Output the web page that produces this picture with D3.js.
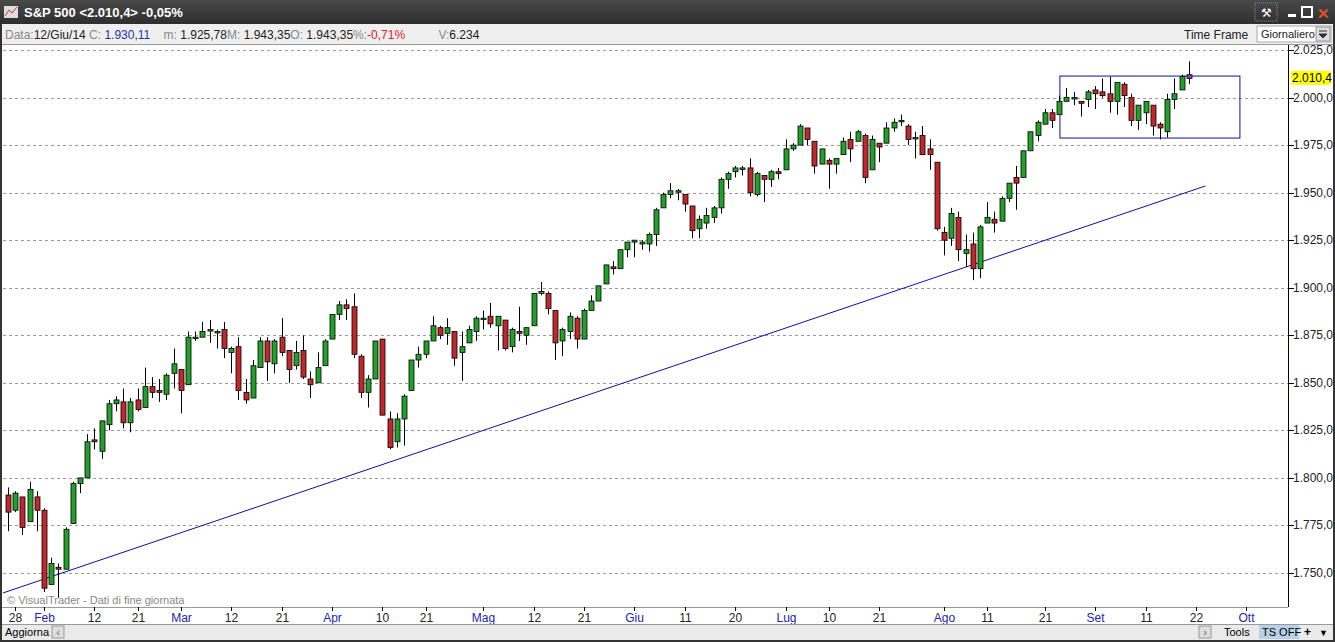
<!DOCTYPE html><html><head><meta charset="utf-8">
<script src="https://cdn.jsdelivr.net/npm/d3@7"></script>
<style>body{margin:0;background:#2b2b2b;overflow:hidden}svg{display:block;font-family:"Liberation Sans",Arial,sans-serif}</style></head><body>
<svg id="c" width="1335" height="642"></svg>
<script>
const openV=[1791,1783,1790,1777,1790,1783,1744,1753,1752,1776,1797,1800,1820,1814,1828,1839,1840,1829,1841,1837,1848,1846,1844,1855,
1857,1849,1874,1874,1878,1877,1878,1866,1869,1845,1842,1858,1872,1860,1874,1867,1859,1867,1852,1850,1859,
1873,1886,1891,1890,1864,1845,1852,1873,1831,1819,1831,1846,1862,1865,1872,1879,1876,1877,1866,1871,1877,
1884,1885,1880,1883,1869,1877,1875,1880,1897,1897,1888,1872,1877,1884,1873,1888,1893,1902,1911,1910,1920,
1924,1923,1923,1928,1942,1949,1951,1949,1943,1931,1934,1937,1942,1957,1961,1963,1963,1949,1959,1957,1961,
1962,1973,1975,1984,1977,1965,1967,1965,1970,1978,1977,1980,1962,1976,1976,1984,1988,1985,1979,1980,1973,1966,
1929,1926,1937,1918,1923,1910,1934,1936,1935,1947,1958,1958,1972,1980,1986,1992,1991,1998,2000,1998,1999,
2004,2003,2002,1998,2007,2000,1988,1992,1996,1986,1982,1999,2004,2012];
const highV=[1795,1793,1790,1798,1793,1784,1758,1755,1774,1798,1800,1823,1826,1830,1841,1843,1847,1842,1847,1858,1853,1852,1855,1868,
1857,1877,1877,1882,1883,1878,1882,1869,1874,1852,1862,1874,1874,1873,1884,1867,1872,1875,1856,1866,1873,
1885,1893,1894,1897,1865,1854,1872,1873,1835,1834,1844,1862,1869,1872,1885,1880,1884,1877,1877,1880,1885,
1888,1892,1885,1883,1879,1890,1879,1897,1903,1898,1888,1879,1887,1885,1889,1896,1901,1912,1914,1920,1924,
1925,1925,1929,1942,1950,1955,1952,1949,1943,1938,1942,1943,1958,1961,1964,1964,1968,1961,1959,1962,1963,
1978,1976,1986,1984,1977,1973,1968,1968,1979,1982,1983,1981,1980,1976,1987,1989,1991,1986,1982,1985,1978,1966,
1932,1942,1940,1928,1929,1933,1945,1940,1948,1955,1964,1972,1982,1988,1994,1994,2001,2005,2003,1998,2004,
2006,2010,2011,2008,2008,2002,1996,1998,1996,1987,2002,2010,2012,2019];
const lowV=[1772,1782,1770,1777,1772,1740,1744,1737,1752,1776,1792,1800,1815,1810,1825,1835,1826,1824,1835,1837,1842,1840,1841,1847,
1834,1849,1872,1874,1871,1868,1863,1855,1841,1839,1842,1858,1851,1855,1864,1850,1857,1852,1842,1850,1859,
1873,1883,1883,1863,1842,1837,1852,1833,1815,1816,1817,1846,1858,1863,1872,1873,1870,1859,1851,1871,1872,
1878,1879,1867,1867,1866,1872,1870,1880,1896,1886,1862,1864,1873,1868,1873,1888,1893,1902,1907,1910,1916,
1916,1920,1919,1922,1942,1947,1946,1940,1926,1926,1931,1934,1939,1952,1958,1959,1948,1948,1945,1953,1957,
1962,1972,1975,1975,1960,1965,1952,1960,1970,1966,1977,1955,1962,1966,1976,1982,1985,1975,1968,1970,1962,1930,
1917,1922,1914,1911,1904,1905,1934,1929,1935,1945,1941,1958,1972,1977,1986,1984,1991,1998,1996,1990,1995,
1994,2000,1992,1991,1995,1985,1983,1986,1980,1978,1979,1994,2004,2007];
const closeV=[1782,1792,1774,1794,1783,1742,1755,1752,1773,1797,1800,1819,1819,1830,1839,1841,1829,1840,1836,1848,1845,1845,1854,1860,
1846,1874,1874,1877,1878,1877,1868,1868,1846,1841,1859,1872,1861,1872,1866,1857,1866,1853,1849,1858,1872,
1886,1891,1889,1865,1845,1852,1872,1833,1816,1831,1843,1862,1865,1872,1880,1875,1879,1863,1869,1878,1884,
1884,1881,1885,1868,1878,1876,1879,1897,1898,1889,1871,1878,1885,1873,1888,1893,1901,1912,1910,1920,1924,
1925,1924,1928,1941,1949,1951,1951,1944,1930,1936,1938,1942,1957,1960,1963,1963,1950,1960,1957,1961,1960,
1973,1975,1985,1978,1964,1973,1965,1968,1977,1973,1982,1958,1978,1974,1984,1987,1988,1978,1979,1970,1970,1931,
1925,1939,1920,1920,1910,1932,1937,1934,1947,1955,1955,1972,1982,1987,1992,1988,1998,2000,2000,1997,2003,
2002,2001,1998,2008,2001,1988,1996,1998,1985,1984,1999,2002,2011,2010];
const holidays=["2014-02-17","2014-04-18","2014-05-26","2014-07-04","2014-09-01"];
const tickLabels=[["2014-01-28","28",0],["2014-02-03","Feb",1],["2014-02-12","12",0],["2014-02-21","21",0],["2014-03-03","Mar",1],["2014-03-12","12",0],["2014-03-21","21",0],["2014-04-01","Apr",1],["2014-04-10","10",0],["2014-04-21","21",0],["2014-05-01","Mag",1],["2014-05-12","12",0],["2014-05-21","21",0],["2014-06-02","Giu",1],["2014-06-11","11",0],["2014-06-20","20",0],["2014-07-01","Lug",1],["2014-07-10","10",0],["2014-07-21","21",0],["2014-08-01","Ago",1],["2014-08-11","11",0],["2014-08-21","21",0],["2014-09-02","Set",1],["2014-09-11","11",0],["2014-09-22","22",0],["2014-10-01","Ott",1]];
const yTicks=[1750,1775,1800,1825,1850,1875,1900,1925,1950,1975,2000,2025];
const trendIdx=[-0.7,166.3], trendVal=[1739.5,1953.5];
const boxIdx=[146.1,171.1], boxVal=[1978.7,2011.3];
const lastPrice=2010.4;

const dates=[];const fmt=d3.timeFormat("%Y-%m-%d");
for(let d=new Date(2014,0,27);d<=new Date(2014,9,3);d=d3.timeDay.offset(d,1)){const w=d.getDay();const s=fmt(d);if(w&&w<6&&!holidays.includes(s))dates.push(s);}
const svg=d3.select("#c");
const x=d3.scaleLinear().domain([0,171]).range([8,8+171*7.2]);
const y=d3.scaleLinear().domain([1750,2025]).range([573,50]);
const num=v=>d3.format(",.1f")(v).replace(/,/g,"#").replace(".",",").replace(/#/g,".");
svg.append("rect").attr("width",1335).attr("height",642).attr("fill","#333");
const tg=svg.append("linearGradient").attr("id","tb").attr("x1",0).attr("x2",0).attr("y1",0).attr("y2",1);
tg.append("stop").attr("offset",0).attr("stop-color","#4a4a4a");tg.append("stop").attr("offset",1).attr("stop-color","#2e2e2e");
svg.append("rect").attr("width",1335).attr("height",24).attr("fill","url(#tb)");
svg.append("rect").attr("x",4).attr("y",6).attr("width",14).attr("height",12).attr("fill","#ddd");
svg.append("path").attr("d","M5,16 L9,10 L12,13 L17,7").attr("stroke","#c33").attr("fill","none");
svg.append("text").attr("x",24).attr("y",17).attr("fill","#fff").attr("font-weight","bold").attr("font-size",13).text("S&P 500 <2.010,4> -0,05%");
svg.append("rect").attr("x",1255).attr("y",3).attr("width",22).attr("height",18).attr("fill","none").attr("stroke","#888").attr("stroke-dasharray","1,1");
svg.append("text").attr("x",1261).attr("y",17).attr("fill","#fff").attr("font-size",12).text("⚒");
svg.append("rect").attr("x",1288).attr("y",14).attr("width",8).attr("height",3).attr("fill","#fff");
svg.append("rect").attr("x",1302).attr("y",7).attr("width",10).attr("height",10).attr("fill","none").attr("stroke","#fff").attr("stroke-width",2);
svg.append("text").attr("x",1317).attr("y",19).attr("fill","#e05020").attr("font-weight","bold").attr("font-size",15).text("✕");
svg.append("rect").attr("x",2).attr("y",24).attr("width",1331).attr("height",20).attr("fill","#efefef");
const info=svg.append("text").attr("x",5).attr("y",39).attr("font-size",12);
[["Data:","#888"],["12/Giu/14 ","#222"],["C: ","#888"],["1.930,11","#2233aa"],["    m: ","#888"],["1.925,78","#222"],["M: ","#888"],["1.943,35","#222"],["O: ","#888"],["1.943,35","#222"],["%:","#888"],["-0,71%","#dd2222"],["          V:","#888"],["6.234","#222"]].forEach(([t,c])=>info.append("tspan").attr("fill",c).attr("xml:space","preserve").text(t));
svg.append("text").attr("x",1184).attr("y",39).attr("font-size",12).attr("fill","#222").text("Time Frame");
svg.append("rect").attr("x",1257).attr("y",26).attr("width",74).attr("height",16).attr("fill","#fff").attr("stroke","#aaa");
svg.append("text").attr("x",1261).attr("y",38).attr("font-size",11).attr("fill","#222").text("Giornaliero");
svg.append("rect").attr("x",1316).attr("y",27).attr("width",14).attr("height",14).attr("fill","#ddd").attr("stroke","#999");
svg.append("path").attr("d","M1319,31h8M1319,34h8l-4,4z").attr("stroke","#333").attr("fill","#333");
svg.append("rect").attr("x",2).attr("y",44).attr("width",1331).attr("height",581).attr("fill","#fff");
svg.append("line").attr("x1",2).attr("x2",1333).attr("y1",44.5).attr("y2",44.5).attr("stroke","#999");
svg.append("line").attr("x1",1288.5).attr("x2",1288.5).attr("y1",45).attr("y2",607).attr("stroke","#000");
svg.append("line").attr("x1",2).attr("x2",1288).attr("y1",607.5).attr("y2",607.5).attr("stroke","#999");
yTicks.forEach(v=>{
 svg.append("line").attr("x1",3).attr("x2",1288).attr("y1",Math.round(y(v))+.5).attr("y2",Math.round(y(v))+.5).attr("stroke","#9a9a9a").attr("stroke-dasharray","3,3");
 svg.append("line").attr("x1",1288).attr("x2",1294).attr("y1",Math.round(y(v))+.5).attr("y2",Math.round(y(v))+.5).attr("stroke","#000");
 svg.append("text").attr("x",1293).attr("y",y(v)+4).attr("font-size",12).attr("fill","#222").text(num(v));
});
svg.append("line").attr("x1",x(trendIdx[0])).attr("x2",x(trendIdx[1])).attr("y1",y(trendVal[0])).attr("y2",y(trendVal[1])).attr("stroke","#1010a0");
svg.append("rect").attr("x",x(boxIdx[0])).attr("y",y(boxVal[1])).attr("width",x(boxIdx[1])-x(boxIdx[0])).attr("height",y(boxVal[0])-y(boxVal[1])).attr("fill","none").attr("stroke","#1010a0");
const g=svg.append("g");
closeV.forEach((c,i)=>{
 const o=openV[i],cx=Math.round(x(i))+.5,last=i===closeV.length-1;
 g.append("line").attr("x1",cx).attr("x2",cx).attr("y1",y(highV[i])).attr("y2",y(lowV[i])).attr("stroke","#000");
 const top=y(Math.max(o,c)),h=Math.max(1.5,y(Math.min(o,c))-top);
 g.append("rect").attr("x",cx-2.5).attr("y",top).attr("width",5).attr("height",h)
  .attr("fill",last?"#8844aa":(c>=o?"#22a02a":"#c0282b")).attr("stroke","#000").attr("stroke-width",.8);
});
svg.append("rect").attr("x",1291).attr("y",y(lastPrice)-7).attr("width",40).attr("height",14).attr("fill","#ffff00");
svg.append("text").attr("x",1292).attr("y",y(lastPrice)+4).attr("font-size",12).attr("fill","#000").text(num(lastPrice));
svg.append("text").attr("x",7).attr("y",604).attr("font-size",11).attr("fill","#888").text("© VisualTrader - Dati di fine giornata");
tickLabels.forEach(([d,l,m])=>{const i=dates.indexOf(d);const px=Math.round(x(i))+.5;
 svg.append("line").attr("x1",px).attr("x2",px).attr("y1",607).attr("y2",611).attr("stroke","#000");
 svg.append("text").attr("x",px).attr("y",622).attr("text-anchor","middle").attr("font-size",12).attr("fill",m?"#2222bb":"#222").text(l);});
svg.append("rect").attr("x",2).attr("y",625).attr("width",1331).attr("height",15).attr("fill","#eaeaea");
svg.append("line").attr("x1",2).attr("x2",1333).attr("y1",624.5).attr("y2",624.5).attr("stroke","#999");
svg.append("text").attr("x",5).attr("y",636).attr("font-size",11).attr("fill","#000").text("Aggiorna");
[[52,"‹"],[1199,"›"]].forEach(([bx,t])=>{svg.append("rect").attr("x",bx).attr("y",626).attr("width",12).attr("height",12).attr("fill","#ddd").attr("stroke","#999");
 svg.append("text").attr("x",bx+6).attr("y",636).attr("text-anchor","middle").attr("font-size",11).attr("fill","#666").text(t);});
svg.append("text").attr("x",1224).attr("y",636).attr("font-size",11).text("Tools");
svg.append("rect").attr("x",1259).attr("y",625).attr("width",40).attr("height",14).attr("fill","#b8d0e8");
svg.append("text").attr("x",1262).attr("y",636).attr("font-size",11).text("TS OFF");
svg.append("text").attr("x",1304).attr("y",636).attr("font-size",12).attr("font-weight","bold").text("+");
svg.append("text").attr("x",1319).attr("y",636).attr("font-size",9).text("▼");
</script></body></html>
